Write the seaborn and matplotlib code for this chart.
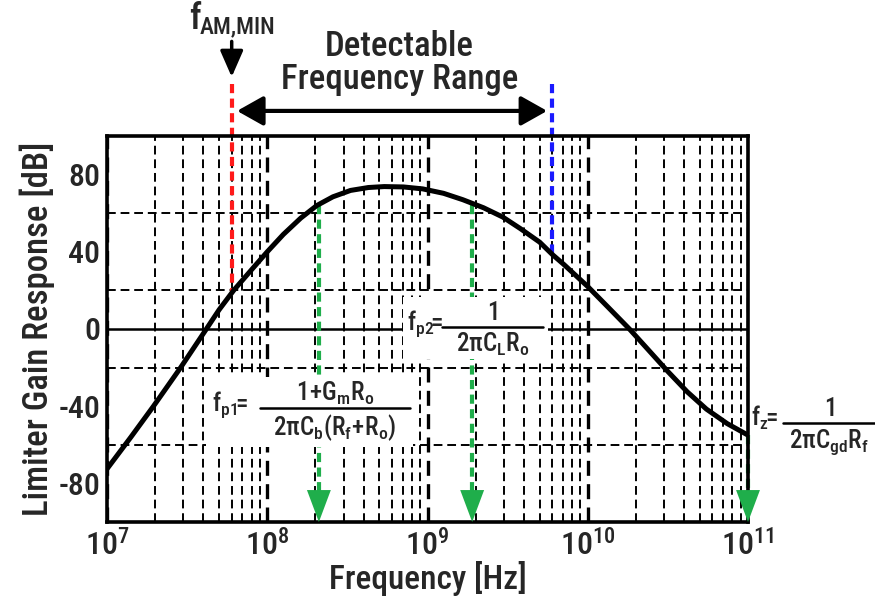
import matplotlib
matplotlib.use("Agg")
import matplotlib.pyplot as plt
from matplotlib import font_manager
from matplotlib.patches import Rectangle
from matplotlib.ticker import LogLocator, NullFormatter
import numpy as np
import seaborn as sns

# Limiter gain curve
freq_hz = [1.0e7, 1.41e7, 1.95e7, 2.88e7, 4.17e7, 5.01e7, 6.17e7, 7.94e7, 1.0e8,
           1.26e8, 1.62e8, 2.04e8, 2.57e8, 3.31e8, 4.27e8, 5.37e8, 7.08e8, 9.33e8,
           1.26e9, 1.66e9, 2.24e9, 2.95e9, 3.80e9, 5.01e9, 6.03e9, 7.08e9, 1.0e10,
           1.35e10, 1.82e10, 2.40e10, 3.16e10, 4.17e10, 5.50e10, 7.41e10, 1.0e11]
gain_db = [-72.5, -56, -40, -20, 0, 10, 20, 30.5, 40,
           49, 57.5, 64, 68.5, 71.8, 73.3, 73.8, 73.6, 72.6,
           70.3, 67, 62.8, 58, 52, 45, 38.5, 33.5, 22,
           11, 0, -11, -22, -32.5, -41.5, -49, -55]

# detectable range edges: (frequency, top of marker, where it meets the curve)
range_freqs = [6.0e7, 6.0e9]
range_top_db = [127, 127]
range_end_db = [19, 38]
range_colors = ["#ff1a1a", "#1a1aff"]

# pole / zero markers
pz_freqs = [2.1e8, 1.9e9, 1.0e11]
pz_start_db = [64, 64, -55]

y_ticks = [-80, -40, 0, 40, 80]
y_grid = list(range(-100, 101, 20))

sns.set_style("white")
names = {f.name for f in font_manager.fontManager.ttflist}
main_font = "Roboto"
for cand in ["Roboto Condensed", "Liberation Sans Narrow", "Open Sans Condensed",
             "PT Sans Narrow", "Archivo Narrow", "Fira Sans Condensed"]:
    if cand in names:
        main_font = cand
        break
plt.rcParams["font.family"] = [main_font, "DejaVu Sans"]
plt.rcParams["font.weight"] = "medium"
plt.rcParams["axes.labelweight"] = "medium"
plt.rcParams["mathtext.fontset"] = "custom"
plt.rcParams["mathtext.rm"] = main_font + ":medium"
plt.rcParams["mathtext.it"] = main_font + ":medium"
plt.rcParams["mathtext.bf"] = main_font + ":bold"
plt.rcParams["axes.unicode_minus"] = False

W, H = 875, 609
fig = plt.figure(figsize=(W / 100, H / 100), dpi=100)
ax = fig.add_axes([107 / W, 1 - 522 / H, 641 / W, 386 / H])

sns.lineplot(x=freq_hz, y=gain_db, color="black", lw=3.6, ax=ax, zorder=5)

ax.set_xscale("log")
ax.set_xlim(1e7, 1e11)
ax.set_ylim(-100, 100)
ax.xaxis.set_major_locator(LogLocator(base=10, numticks=10))
ax.xaxis.set_minor_locator(LogLocator(base=10, subs=np.arange(2, 10), numticks=100))
ax.xaxis.set_minor_formatter(NullFormatter())
ax.set_yticks(y_ticks)
ax.set_yticks(y_grid, minor=True)

dash = (0, (4.5, 2.5))
ax.grid(which="major", axis="x", ls=dash, lw=2.4, color="black")
ax.grid(which="minor", axis="x", ls=dash, lw=1.4, color="black")
ax.grid(which="minor", axis="y", ls=dash, lw=1.4, color="black")
ax.axhline(0, color="black", lw=1.8, zorder=2)

ax.tick_params(which="both", length=0, labelsize=23, pad=5)
for s in ax.spines.values():
    s.set_linewidth(2.6)
    s.set_color("black")
    s.set_zorder(6)

ax.set_xlabel("Frequency [Hz]", fontsize=24, labelpad=0)
ax.set_ylabel("Limiter Gain Response [dB]", fontsize=25, labelpad=2)

# red / blue range edges
for f, top, end, c in zip(range_freqs, range_top_db, range_end_db, range_colors):
    ax.plot([f, f], [top, end], color=c, lw=3, ls=(0, (2.2, 1.3)), clip_on=False, zorder=4)

# green pole/zero arrows
green = "#1fae4b"
for f, start in zip(pz_freqs, pz_start_db):
    ax.plot([f, f], [start, -84], color=green, lw=3, ls=(0, (2.2, 1.3)), clip_on=False, zorder=4)
    ax.annotate("", xy=(f, -100), xytext=(f, -84),
                arrowprops=dict(arrowstyle="-|>,head_length=1.15,head_width=0.43",
                                color=green, lw=0, mutation_scale=20,
                                shrinkA=0, shrinkB=0),
                annotation_clip=False, zorder=7)

# detectable range arrow
ax.annotate("", xy=(range_freqs[0] * 1.08, 113), xytext=(range_freqs[1] * 0.93, 113),
            arrowprops=dict(arrowstyle="<|-|>,head_length=0.8,head_width=0.45",
                            color="black", lw=3, mutation_scale=20,
                            shrinkA=0, shrinkB=0),
            annotation_clip=False)
ax.annotate("", xy=(range_freqs[0], 130.6), xytext=(range_freqs[0], 149),
            arrowprops=dict(arrowstyle="-|>,head_length=0.8,head_width=0.35",
                            color="black", lw=2.5, mutation_scale=20,
                            shrinkA=0, shrinkB=0),
            annotation_clip=False)


def px(x, y):
    # picture pixels -> figure fraction
    return x / W, 1 - y / H


fig.text(*px(399, 46), "Detectable", fontsize=25, ha="center", va="center")
fig.text(*px(400, 79), "Frequency Range", fontsize=25, ha="center", va="center")
fig.text(*px(189, 29), "f", fontsize=26, ha="left", va="baseline")
fig.text(*px(200, 33), "AM,MIN", fontsize=17, ha="left", va="baseline")


def fraction(prefix, num, den, left, right, bar_y, pre_x, fs=18, box=None):
    if box is not None:
        x0, y0, x1, y1 = box
        fig.patches.append(Rectangle(px(x0, y1), (x1 - x0) / W, (y1 - y0) / H,
                                     transform=fig.transFigure, facecolor="white",
                                     edgecolor="none", zorder=8))
    fig.text(*px(pre_x, bar_y + 3), prefix, fontsize=fs, ha="left", va="baseline", zorder=9)
    cx = (left + right) / 2
    fig.text(*px(cx, bar_y - 7), num, fontsize=fs, ha="center", va="baseline", zorder=9)
    fig.text(*px(cx, bar_y + 4), den, fontsize=fs, ha="center", va="top", zorder=9)
    fig.lines.append(plt.Line2D([left / W, right / W], [1 - bar_y / H] * 2,
                                transform=fig.transFigure, color="black", lw=1.8, zorder=9))


fraction(r"$\mathrm{f_{p1}\!\!=}$", r"$\mathrm{1\!+\!G_mR_o}$",
         r"$\mathrm{2\pi C_b(R_f\!+\!R_o)}$",
         260, 410, 408, 212, box=(206, 377, 413, 447))
fraction(r"$\mathrm{f_{p2}\!\!=}$", r"$\mathrm{1}$", r"$\mathrm{2\pi C_LR_o}$",
         442, 543, 327, 407, box=(403, 297, 548, 359))
fraction(r"$\mathrm{f_z\!\!=}$", r"$\mathrm{1}$", r"$\mathrm{2\pi C_{gd}R_f}$",
         783, 875, 423, 751)

fig.savefig("out.png", dpi=100)
